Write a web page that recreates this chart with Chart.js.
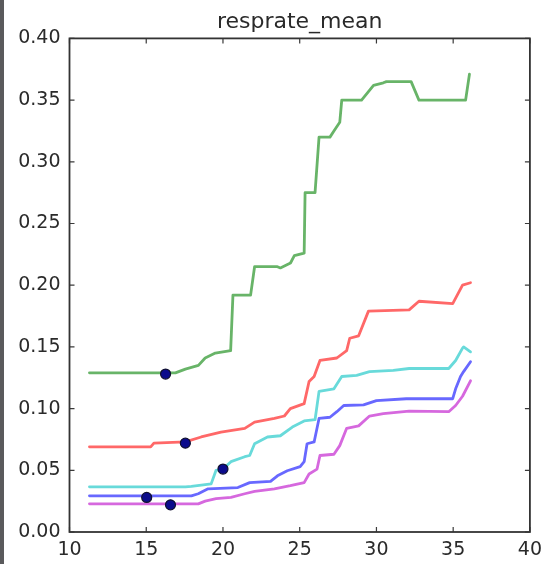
<!DOCTYPE html>
<html>
<head>
<meta charset="utf-8">
<script src="https://cdn.jsdelivr.net/npm/chart.js@4/dist/chart.umd.min.js"></script>
<style>
  html, body { margin: 0; padding: 0; background: #ffffff; }
  #wrap { position: relative; width: 549px; height: 564px; overflow: hidden; background: #fff; }
  #strip { position: absolute; left: 0; top: 0; width: 4px; height: 564px; background: #5a5a5c; }
  canvas { position: absolute; left: 0; top: 0; }
</style>
</head>
<body>
<div id="wrap">
  <canvas id="c" width="549" height="564"></canvas>
  <div id="strip"></div>
</div>
<script>
// ---- data ----
const titleText = "resprate_mean";
const xTickValues = [10, 15, 20, 25, 30, 35, 40];
const yTickValues = [0.00, 0.05, 0.10, 0.15, 0.20, 0.25, 0.30, 0.35, 0.40];

const greenX = [11.3, 16.9, 17.55, 18.4, 18.84, 19.5, 20.5, 20.65, 21.8, 22.06, 23.55, 23.74, 24.4, 24.65, 25.29, 25.35, 26.0, 26.26, 26.97, 27.23, 27.61, 27.74, 29.03, 29.81, 30.45, 30.65, 32.26, 32.77, 35.81, 36.06];
const greenY = [0.129, 0.129, 0.132, 0.135, 0.141, 0.145, 0.147, 0.192, 0.192, 0.215, 0.215, 0.214, 0.218, 0.224, 0.226, 0.275, 0.275, 0.320, 0.320, 0.325, 0.332, 0.350, 0.350, 0.362, 0.364, 0.365, 0.365, 0.350, 0.350, 0.371];

const redX = [11.3, 15.29, 15.5, 17.55, 18.58, 19.87, 21.42, 22.06, 23.35, 24.0, 24.39, 25.29, 25.61, 25.94, 26.32, 27.42, 28.06, 28.26, 28.84, 29.48, 32.13, 32.77, 34.97, 35.61, 36.13];
const redY = [0.069, 0.069, 0.072, 0.073, 0.077, 0.081, 0.084, 0.089, 0.092, 0.094, 0.100, 0.104, 0.122, 0.126, 0.139, 0.141, 0.147, 0.157, 0.159, 0.179, 0.180, 0.187, 0.185, 0.200, 0.202];

const cyanX = [11.3, 17.55, 17.94, 19.23, 19.55, 20.0, 20.52, 21.42, 21.74, 22.06, 22.9, 23.74, 24.52, 25.29, 26.0, 26.26, 27.23, 27.74, 28.71, 29.55, 31.1, 32.13, 34.71, 35.16, 35.61, 35.68, 36.13];
const cyanY = [0.0366, 0.0366, 0.037, 0.039, 0.050, 0.051, 0.057, 0.061, 0.062, 0.0715, 0.077, 0.078, 0.085, 0.090, 0.091, 0.114, 0.116, 0.126, 0.127, 0.130, 0.131, 0.1325, 0.1325, 0.139, 0.149, 0.150, 0.146];

const blueX = [11.3, 17.94, 18.39, 19.03, 20.97, 21.74, 23.1, 23.55, 24.19, 25.03, 25.29, 25.48, 25.94, 26.26, 26.97, 27.42, 27.87, 29.16, 30.0, 31.94, 34.97, 35.16, 35.48, 35.68, 36.13];
const blueY = [0.0293, 0.0293, 0.031, 0.035, 0.036, 0.040, 0.041, 0.0455, 0.0496, 0.053, 0.057, 0.0715, 0.073, 0.092, 0.093, 0.0975, 0.1025, 0.103, 0.1065, 0.108, 0.108, 0.116, 0.126, 0.130, 0.138];

const magentaX = [11.3, 18.39, 18.84, 19.55, 20.52, 21.42, 22.06, 23.35, 24.39, 25.29, 25.61, 26.13, 26.32, 27.23, 27.61, 28.06, 28.84, 29.55, 30.45, 32.13, 34.71, 35.16, 35.61, 36.13];
const magentaY = [0.0228, 0.0228, 0.025, 0.027, 0.028, 0.031, 0.033, 0.035, 0.0375, 0.040, 0.047, 0.051, 0.062, 0.063, 0.070, 0.084, 0.086, 0.094, 0.096, 0.098, 0.0975, 0.1025, 0.110, 0.1225];

const markerX = [16.26, 17.55, 20.0, 15.03, 16.58];
const markerY = [0.128, 0.072, 0.051, 0.028, 0.022];

// ---- build datasets ----
function pts(xs, ys) { return xs.map((x, i) => ({ x: x, y: ys[i] })); }
function lineDs(xs, ys, color) {
  return {
    data: pts(xs, ys), showLine: true, borderColor: color, backgroundColor: color,
    borderWidth: 2.8, pointRadius: 0, tension: 0, order: 1,
    borderJoinStyle: 'round', borderCapStyle: 'round'
  };
}

const insideTicks = {
  id: 'insideTicks',
  afterDatasetsDraw(chart) {
    const ctx = chart.ctx, a = chart.chartArea;
    const xs = chart.scales.x, ys = chart.scales.y;
    ctx.save();
    ctx.strokeStyle = '#3a3a3a';
    ctx.lineWidth = 1.2;
    const L = 5;
    ctx.beginPath();
    xTickValues.forEach(v => {
      const p = xs.getPixelForValue(v);
      ctx.moveTo(p, a.bottom); ctx.lineTo(p, a.bottom - L);
      ctx.moveTo(p, a.top); ctx.lineTo(p, a.top + L);
    });
    yTickValues.forEach(v => {
      const p = ys.getPixelForValue(v);
      ctx.moveTo(a.left, p); ctx.lineTo(a.left + L, p);
      ctx.moveTo(a.right, p); ctx.lineTo(a.right - L, p);
    });
    ctx.stroke();
    ctx.lineWidth = 1.8;
    ctx.strokeStyle = '#333';
    ctx.strokeRect(a.left, a.top, a.right - a.left, a.bottom - a.top);
    ctx.restore();
  }
};

new Chart(document.getElementById('c'), {
  type: 'scatter',
  data: {
    datasets: [
      {
        data: pts(markerX, markerY), showLine: false, pointRadius: 5,
        pointBackgroundColor: '#0b0b8c', pointBorderColor: '#101030', pointBorderWidth: 1.2, order: 0
      },
      lineDs(greenX, greenY, 'rgb(104,180,104)'),
      lineDs(redX, redY, 'rgb(255,104,104)'),
      lineDs(cyanX, cyanY, 'rgb(104,218,218)'),
      lineDs(blueX, blueY, 'rgb(104,104,255)'),
      lineDs(magentaX, magentaY, 'rgb(214,104,222)')
    ]
  },
  options: {
    responsive: false,
    animation: false,
    events: [],
    layout: { padding: { left: 0, right: 13, top: 0, bottom: 0 } },
    plugins: {
      legend: { display: false },
      tooltip: { enabled: false },
      title: {
        display: true, text: titleText, fullSize: false,
        color: '#2a2a2a', font: { family: 'DejaVu Sans', size: 22, weight: 'normal' },
        padding: { top: 9, bottom: 3 }
      }
    },
    scales: {
      x: {
        type: 'linear', min: 10, max: 40,
        afterBuildTicks: s => { s.ticks = xTickValues.map(v => ({ value: v })); },
        afterFit: s => { s.height = 32; },
        grid: { display: false, drawTicks: false },
        border: { display: false },
        ticks: {
          color: '#2a2a2a', padding: 7, maxRotation: 0, autoSkip: false,
          font: { family: 'DejaVu Sans', size: 19 },
          callback: v => String(v)
        }
      },
      y: {
        type: 'linear', min: 0, max: 0.4,
        afterBuildTicks: s => { s.ticks = yTickValues.map(v => ({ value: v })); },
        afterFit: s => { s.width = 69.5; },
        grid: { display: false, drawTicks: false },
        border: { display: false },
        ticks: {
          color: '#2a2a2a', padding: 9, autoSkip: false,
          font: { family: 'DejaVu Sans', size: 19 },
          callback: v => Number(v).toFixed(2)
        }
      }
    }
  },
  plugins: [insideTicks]
});
</script>
</body>
</html>
